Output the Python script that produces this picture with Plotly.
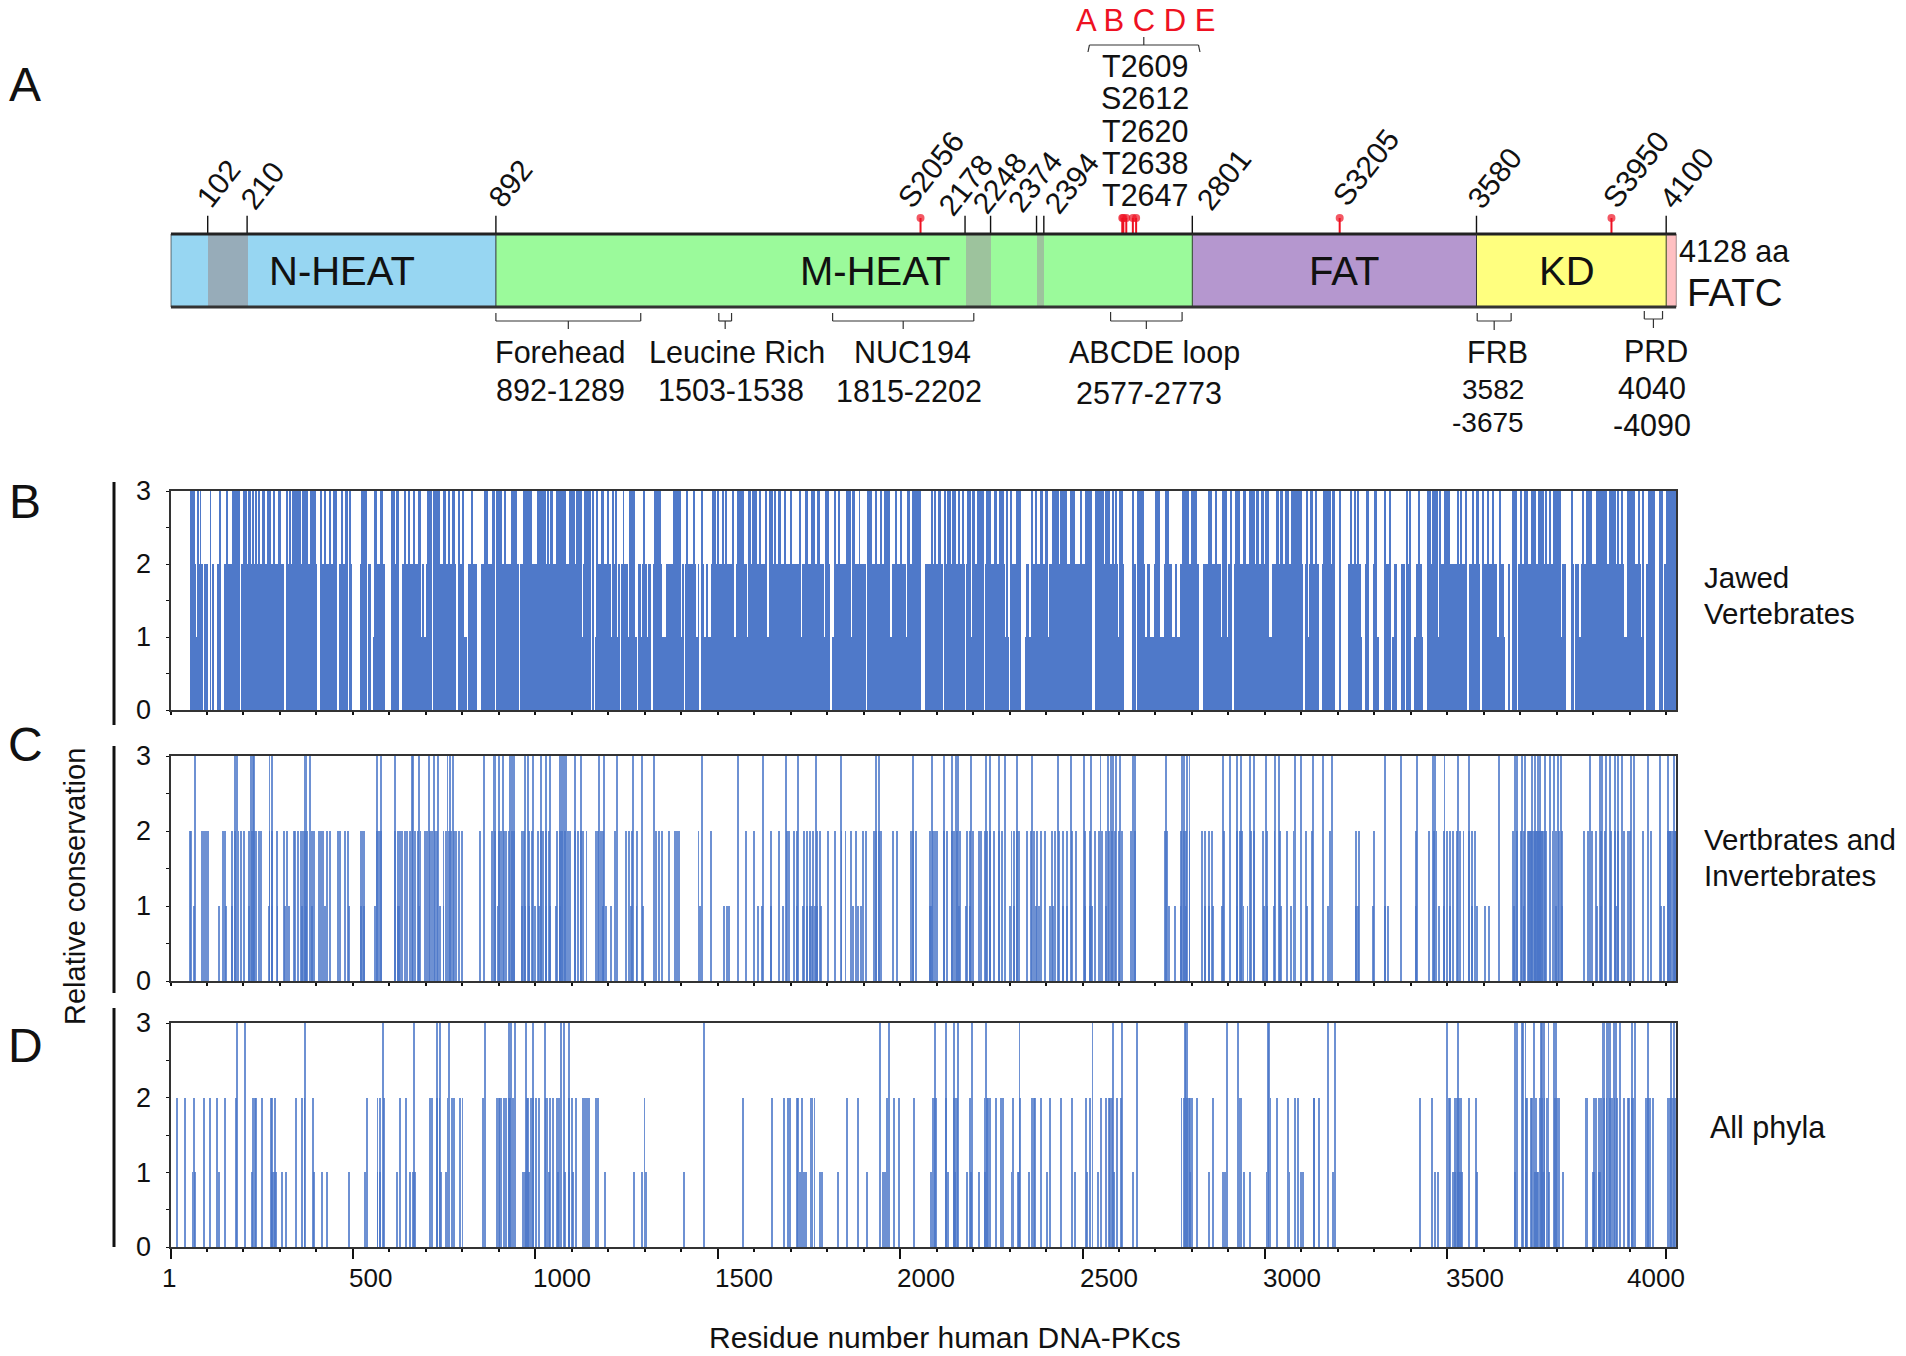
import plotly.graph_objects as go

W, H = 1906, 1356
PROTEIN_END = 4128

# ---------- panel A data ----------
domain_names = ["N-HEAT", "M-HEAT", "FAT", "KD", "FATC"]
domain_starts = [1, 892, 2801, 3580, 4100]
domain_ends = [892, 2801, 3580, 4100, 4128]
domain_colors = ["#97d6f2", "#9bfa9b", "#b597cf", "#ffff7f", "#ffc0c2"]
shade_starts = [102, 2178, 2374]
shade_ends = [210, 2248, 2394]
shade_colors = ["#97acb9", "#9dc39d", "#9dc39d"]
boundary_ticks = [102, 210, 892, 2178, 2248, 2374, 2394, 2801, 3580, 4100]
phospho_sites = [2056, 2609, 2612, 2620, 2638, 2647, 3205, 3950]
bracket_names = ["Forehead", "Leucine Rich", "NUC194", "ABCDE loop", "FRB", "PRD"]
bracket_starts = [892, 1503, 1815, 2577, 3582, 4040]
bracket_ends = [1289, 1538, 2202, 2773, 3675, 4090]

# ---------- panel B: jawed vertebrates, runs of residues at each score ----------
B_score3_runs = [
 (51,60),(63,67),(72,76),(80,82),(107,108),(134,137),(151,157),(168,188),(197,209),(213,218),(224,227),(232,236),
 (241,245),(252,257),(262,273),(279,285),(292,301),(316,321),(325,329),(332,355),(358,376),(382,398),(409,414),
 (419,425),(433,439),(445,456),(467,472),(479,484),(489,494),(520,536),(559,564),(572,581),(604,614),(617,626),
 (639,643),(649,655),(666,670),(679,684),(702,716),(719,737),(748,753),(760,766),(771,778),(787,792),(798,801),
 (823,827),(858,869),(880,888),(890,908),(913,919),(931,949),(966,990),(1004,1016),(1022,1027),
 (1013,1027),(1033,1035),(1038,1048),(1054,1082),(1091,1102),(1104,1108),(1109,1126),(1132,1150),(1155,1159),
 (1164,1170),(1180,1187),(1196,1200),(1209,1212),(1219,1221),(1240,1241),(1255,1271),(1294,1297),(1324,1344),
 (1377,1397),(1412,1415),(1433,1435),(1452,1458),(1482,1493),(1497,1500),(1511,1514),(1520,1525),(1538,1541),
 (1552,1572),(1584,1589),(1593,1607),(1614,1618),(1627,1634),(1639,1650),(1653,1657),(1666,1671),(1680,1687),
 (1696,1703),(1721,1728),(1739,1747),(1753,1764),(1770,1779),(1794,1803),(1820,1824),(1829,1835),(1849,1863),
 (1867,1876),(1886,1887),(1908,1922),(1929,1936),(1943,1950),(1954,1972),(1986,1991),(2000,2003),(2018,2027),
 (2032,2055),(2085,2089),(2094,2098),(2103,2110),(2119,2123),(2126,2137),(2140,2152),(2158,2164),(2169,2173),
 (2183,2192),(2196,2204),(2210,2228),(2235,2249),(2256,2265),(2269,2283),(2290,2295),(2301,2306),(2315,2330),
 (2358,2363),(2368,2375),(2381,2390),(2397,2405),(2414,2434),(2438,2457),(2463,2478),(2493,2498),(2505,2525),
 (2534,2557),(2560,2573),(2580,2585),(2589,2594),(2600,2609),(2635,2641),(2649,2667),(2697,2711),(2724,2735),
 (2770,2790),(2795,2813),(2843,2854),(2863,2868),(2880,2895),(2904,2909),(2916,2929),(2941,2946),(2955,2971),
 (2975,2982),(2987,2996),(3000,3011),(3030,3037),(3041,3049),(3055,3064),(3069,3101),(3110,3117),(3122,3131),
 (3136,3142),(3158,3179),(3183,3191),(3203,3206),(3233,3238),(3243,3247),(3252,3255),(3275,3284),(3299,3307),
 (3325,3331),(3339,3343),(3387,3391),(3396,3398),(3419,3424),(3442,3453),(3457,3473),(3478,3482),(3489,3506),
 (3524,3530),(3535,3540),(3549,3553),(3567,3573),(3576,3585),(3594,3597),(3608,3612),(3622,3626),(3643,3647),
 (3677,3690),(3698,3704),(3709,3720),(3727,3741),(3747,3763),(3768,3773),(3777,3784),(3789,3811),(3838,3841),
 (3868,3873),(3879,3896),(3905,3937),(3942,3960),(3964,3969),(3975,3981),(3992,4012),(4024,4028),(4033,4036),
 (4048,4067),(4079,4091),(4097,4128),
]
B_score2_runs = [
 (58,69),(76,88),(90,101),(115,117),(127,131),(145,188),(191,250),(255,296),(298,310),(316,332),(337,349),(353,401),
 (408,456),(460,483),(489,495),(519,533),(541,548),(559,586),(604,608),(611,625),(634,684),(687,693),(700,716),
 (721,762),(766,780),(787,798),(815,821),(826,840),(849,885),(890,954),(958,1027),
 (1013,1127),(1130,1147),(1153,1159),(1167,1207),(1209,1221),(1228,1232),(1233,1252),(1255,1271),(1280,1287),
 (1290,1305),(1310,1315),(1321,1347),(1356,1377),(1383,1388),(1401,1404),(1408,1438),(1445,1447),(1452,1461),
 (1467,1472),(1481,1520),(1525,1543),(1549,1578),(1589,1598),(1605,1627),(1639,1664),(1673,1726),(1730,1790),
 (1794,1806),(1820,1852),(1867,1904),(1907,1972),(1977,2014),(2018,2055),(2041,2057),(2068,2078),(2079,2105),
 (2110,2116),(2119,2131),(2138,2176),(2180,2194),(2201,2228),(2231,2286),(2299,2330),(2344,2352),(2359,2405),
 (2408,2414),(2427,2443),(2449,2470),(2478,2525),(2534,2580),(2582,2595),(2600,2612),(2635,2644),(2653,2670),
 (2676,2683),(2694,2708),(2722,2745),(2752,2758),(2767,2819),(2829,2845),(2850,2863),(2868,2877),(2898,2909),
 (2914,2955),(2957,2975),(2978,3010),(3017,3030),(3032,3083),(3069,3104),(3110,3113),(3119,3147),(3156,3162),
 (3174,3192),(3204,3208),(3226,3263),(3272,3285),(3296,3305),(3325,3341),(3352,3361),(3372,3384),(3391,3396),
 (3412,3428),(3442,3457),(3464,3471),(3478,3553),(3558,3588),(3594,3634),(3647,3654),(3667,3669),(3693,3811),
 (3814,3823),(3837,3846),(3850,3859),(3864,3932),(3935,3964),(3969,3983),(3992,4015),(4017,4030),(4042,4056),
 (4079,4085),(4092,4128),
]
B_score1_runs = [
 (53,58),(69,73),(252,255),(294,298),(332,338),(352,358),(469,475),(533,537),(556,559),(684,700),(803,812),(816,824),
 (876,880),(1127,1130),(1164,1167),(1207,1210),(1225,1228),(1252,1255),(1273,1278),(1287,1290),(1305,1310),
 (1347,1356),(1377,1383),(1388,1401),(1438,1445),(1461,1467),(1472,1481),(1520,1525),(1543,1549),(1578,1584),
 (1598,1605),(1627,1639),(1664,1673),(1726,1730),(1790,1794),(1811,1820),(1852,1867),(1972,1977),(2014,2015),
 (2105,2110),(2131,2135),(2194,2201),(2286,2297),(2343,2344),(2352,2359),(2405,2408),(2414,2427),(2443,2449),
 (2470,2478),(2580,2582),(2595,2600),(2670,2676),(2683,2694),(2708,2722),(2745,2752),(2758,2767),(2845,2850),
 (2877,2898),(2955,2957),(2975,2978),(3010,3017),(3030,3032),(3113,3119),(3243,3266),(3305,3312),(3348,3352),
 (3409,3412),(3428,3430),(3457,3464),(3471,3478),(3634,3658),(3807,3814),(3859,3864),(3983,3992),(4030,4039),
]

# ---------- panel C: vertebrates and invertebrates, residues at each score ----------
C_score3 = [66,176,180,220,224,228,270,276,366,371,380,564,575,614,660,664,680,708,722,732,758,764,772,859,884,888,898,909,
 929,934,941,971,979,992,1014,1027,1039,1066,1071,1077,1084,1108,1125,1174,1186,1223,1266,1292,1323,1455,1553,1624,1686,
 1720,1767,1837,1933,1940,2034,2087,2120,2140,2152,2158,2194,2234,2245,2269,2285,2318,2359,2431,2466,2504,2522,2548,2569,
 2576,2582,2590,2601,2638,2643,2727,2771,2778,2785,2792,2885,2902,2923,2934,2957,2968,3001,3027,3038,3080,3097,3130,3158,
 3182,3327,3372,3415,3459,3466,3491,3527,3558,3641,3683,3690,3704,3712,3732,3739,3746,3753,3767,3779,3790,3801,3810,3891,
 3916,3923,3934,3944,3958,3966,3978,4003,4010,4049,4081,4104,4119]
C_score2 = [52,56,84,90,95,101,143,148,168,176,185,193,200,215,221,227,232,241,246,270,277,291,310,317,336,341,347,357,362,368,
 373,386,392,406,411,417,428,435,457,464,476,484,520,525,530,564,569,576,615,621,627,632,641,646,655,662,669,678,684,697,702,
 711,716,723,730,747,754,761,768,775,782,789,797,848,881,887,899,905,912,919,926,934,941,961,968,982,989,1006,1013,1021,1028,
 1035,1059,1066,1073,1080,1088,1094,1108,1115,1123,1130,1139,1164,1171,1178,1185,1217,1246,1255,1263,1278,1329,1337,1346,1364,
 1381,1388,1393,1446,1481,1575,1597,1645,1667,1688,1695,1709,1716,1734,1743,1751,1760,1771,1779,1800,1821,1838,1849,1863,1877,
 1898,1905,1926,1933,1940,1947,1978,1989,2028,2034,2042,2081,2088,2095,2101,2119,2126,2140,2147,2154,2162,2182,2190,2199,2214,
 2221,2231,2238,2245,2255,2271,2278,2304,2311,2319,2324,2347,2357,2366,2375,2385,2396,2414,2424,2434,2445,2455,2471,2480,2506,
 2518,2534,2543,2552,2562,2571,2579,2587,2599,2606,2632,2643,2726,2730,2768,2776,2783,2792,2825,2835,2846,2853,2887,2923,2930,
 2937,2960,2968,2993,3004,3025,3041,3059,3077,3112,3127,3178,3248,3256,3298,3414,3449,3462,3469,3490,3498,3506,3515,3525,3534,
 3543,3557,3567,3575,3678,3690,3701,3709,3720,3723,3726,3729,3732,3735,3738,3741,3744,3747,3750,3753,3756,3759,3762,3765,3769,
 3787,3796,3804,3813,3874,3884,3894,3905,3919,3930,3947,3958,3966,3983,3993,4000,4036,4056,4104,4107,4110,4113,4116,4119,4122,4125]
C_score1 = [62,132,150,168,215,269,278,292,313,323,360,369,386,422,488,522,529,558,621,625,681,737,747,895,962,971,982,999,1010,
 1027,1038,1056,1066,1183,1192,1206,1262,1276,1295,1450,1516,1525,1530,1608,1620,1646,1678,1716,1732,1744,1751,1758,1765,1772,
 1782,1870,1883,1892,2081,2084,2161,2179,2189,2245,2301,2311,2371,2380,2410,2417,2445,2455,2506,2518,2525,2562,2737,2751,2769,
 2783,2834,2846,2856,2881,2923,2940,2951,2996,3004,3024,3042,3071,3113,3171,3248,3253,3294,3329,3336,3413,3477,3490,3506,3567,
 3581,3601,3613,3681,3709,3796,3813,3909,3919,3961,4084,4092]

# ---------- panel D: all phyla, residues at each score ----------
D_score3 = [182,204,368,580,666,729,737,761,861,926,933,943,973,993,1025,1070,1077,1091,1460,1944,1968,2094,2124,2147,2157,2197,
 2235,2326,2526,2582,2606,2649,2779,2781,2784,2896,2924,3008,3011,3171,3192,3498,3529,3683,3689,3703,3706,3713,3736,3755,3759,
 3763,3776,3792,3796,3924,3927,3935,3939,3944,3956,3960,3973,4004,4013,4049,4113,4119]
D_score2 = [17,39,62,90,108,125,147,179,224,229,234,250,274,278,284,343,360,366,389,536,566,572,583,628,643,710,716,729,736,758,771,
 775,793,799,856,894,898,902,906,912,919,926,930,937,975,979,986,993,1000,1008,1027,1032,1039,1046,1059,1064,1090,1098,1111,1130,
 1136,1140,1146,1164,1171,1298,1568,1648,1680,1692,1697,1715,1719,1729,1753,1758,1764,1852,1883,1963,1983,1995,2037,2090,2093,2097,
 2125,2145,2148,2154,2189,2230,2236,2240,2245,2262,2275,2281,2308,2328,2361,2365,2368,2385,2410,2439,2471,2509,2520,2549,2564,2572,
 2575,2579,2594,2605,2770,2777,2786,2790,2793,2800,2813,2857,2929,2932,3014,3032,3063,3080,3090,3132,3134,3147,3423,3457,3502,3506,
 3520,3525,3531,3536,3559,3578,3714,3718,3728,3732,3741,3753,3759,3765,3772,3793,3799,3805,3878,3883,3902,3907,3915,3921,3928,3935,
 3944,3951,3957,3963,3984,3993,3997,4004,4009,4044,4049,4055,4063,4104,4108,4113,4118,4123]
D_score1 = [59,66,132,222,276,283,288,305,315,393,415,428,488,532,566,573,620,655,663,669,740,754,964,971,982,1035,1062,1081,1090,1101,
 1189,1270,1291,1301,1407,1725,1734,1741,1779,1785,1828,1909,1951,1958,2084,2130,2150,2183,2194,2216,2232,2304,2321,2324,2351,2401,
 2477,2511,2542,2586,2637,2793,2846,2884,2890,2942,2958,3003,3066,3097,3103,3185,3466,3473,3515,3521,3528,3534,3538,3581,3684,3715,
 3740,3744,3748,3757,3763,3778,3816,3897,3902,3914,3917]

# ---------- axis labels ----------
y_tick_values = [0, 1, 2, 3]
y_minor_values = [0.5, 1.5, 2.5]
x_minor_values = list(range(0, 4101, 100))
x_major_values = [0, 500, 1000, 1500, 2000, 2500, 3000, 3500, 4100]
x_tick_labels = ["1", "500", "1000", "1500", "2000", "2500", "3000", "3500", "4000"]
x_label_px = [169, 370, 562, 744, 926, 1109, 1292, 1475, 1656]

FONT = "Liberation Sans"
BLUE_B = "#4f79c9"
BLUE_C = "#4a75c8"
BLUE_D = "#4a75c8"
INK = "#111111"

def px(x):
    return x / W
def py(y):
    return 1 - y / H

XDOM = [px(170.5), px(1676.4)]
fig = go.Figure()

def run_bars(runs, score, axis):
    return go.Bar(x=[(a + b) / 2 for a, b in runs], y=[score] * len(runs), width=[b - a for a, b in runs],
                  marker=dict(color=BLUE_B, line=dict(width=0)), xaxis=f"x{axis}", yaxis=f"y{axis}", hoverinfo="skip")

def stem_bars(positions, score, axis, color):
    return go.Bar(x=positions, y=[score] * len(positions), width=2.6,
                  marker=dict(color=color, opacity=0.8, line=dict(width=0)), xaxis=f"x{axis}", yaxis=f"y{axis}", hoverinfo="skip")

for runs, s in [(B_score3_runs, 3), (B_score2_runs, 2), (B_score1_runs, 1)]:
    fig.add_trace(run_bars(runs, s, ""))
for pos, s in [(C_score3, 3), (C_score2, 2), (C_score1, 1)]:
    fig.add_trace(stem_bars(pos, s, 2, BLUE_C))
for pos, s in [(D_score3, 3), (D_score2, 2), (D_score1, 1)]:
    fig.add_trace(stem_bars(pos, s, 3, BLUE_D))

# panel A: domains and shaded regions
all_starts = domain_starts + shade_starts
all_ends = domain_ends + shade_ends
fig.add_trace(go.Bar(y=[0.5] * len(all_starts), x=[e - s for s, e in zip(all_starts, all_ends)], base=all_starts,
                     width=1, orientation="h", marker=dict(color=domain_colors + shade_colors, line=dict(width=0)),
                     xaxis="x4", yaxis="y4", hoverinfo="skip"))

def stems(values, top, color, width, marker=False):
    xs, ys, sizes = [], [], []
    for v in values:
        xs += [v, v, None]
        ys += [1, top, None]
        sizes += [0, 8, 0]
    return go.Scatter(x=xs, y=ys, mode="lines+markers" if marker else "lines",
                      line=dict(color=color, width=width), marker=dict(size=sizes, color=color, line=dict(width=0)),
                      xaxis="x4", yaxis="y4", hoverinfo="skip", connectgaps=False)

fig.add_trace(stems(boundary_ticks, 1.25, INK, 1.4))
fig.add_trace(stems(phospho_sites, 1.22, "#ee1122", 2, marker=True))
# bar outline
fig.add_trace(go.Scatter(x=[1, PROTEIN_END], y=[1, 1], mode="lines", line=dict(color="#222222", width=3),
                         xaxis="x4", yaxis="y4", hoverinfo="skip"))
fig.add_trace(go.Scatter(x=[1, PROTEIN_END], y=[0, 0], mode="lines", line=dict(color="#333333", width=3),
                         xaxis="x4", yaxis="y4", hoverinfo="skip"))
for b in [1] + domain_ends:
    fig.add_trace(go.Scatter(x=[b, b], y=[0, 1], mode="lines", line=dict(color="#333333", width=1),
                             xaxis="x4", yaxis="y4", hoverinfo="skip"))

shapes = []
def line_px(x0, y0, x1, y1, w=1.2, c="#333333", xref="paper"):
    shapes.append(dict(type="line", xref=xref, yref="paper", x0=x0, x1=x1, y0=py(y0), y1=py(y1),
                       line=dict(color=c, width=w)))

# brackets under the domain bar
arm_top = [313, 313, 313, 312, 313, 311]
arm_bot = [321, 321, 321, 321, 321, 319]
stem_bot = [329, 329, 329, 329, 330, 328]
for s, e, t, b, st in zip(bracket_starts, bracket_ends, arm_top, arm_bot, stem_bot):
    m = (s + e) / 2
    line_px(s, t, s, b, xref="x4")
    line_px(e, t, e, b, xref="x4")
    line_px(s, b, e, b, xref="x4")
    line_px(m, b, m, st, xref="x4")
# bracket above the phosphosite labels
line_px(2515, 52, 2519, 45, xref="x4")
line_px(2519, 45, 2818, 45, xref="x4")
line_px(2818, 45, 2822, 52, xref="x4")
line_px(2668, 45, 2668, 37, xref="x4")

# vertical bars left of the panels
line_px(px(114), 482, px(114), 725, w=3, c="#111111")
line_px(px(114), 746, px(114), 993, w=3, c="#111111")
line_px(px(114), 1008, px(114), 1247, w=3, c="#111111")

annotations = []
def text(s, x, y, size=30, angle=0, color="#111111", anchor="center"):
    annotations.append(dict(text=s, x=px(x), y=py(y), xref="paper", yref="paper", showarrow=False, textangle=angle,
                            xanchor=anchor, yanchor="middle", font=dict(family=FONT, size=size, color=color)))

for s, x, y in [("A", 25, 85), ("B", 25, 502), ("C", 25, 744), ("D", 25, 1045)]:
    text(s, x, y, size=48)
for s, x in [("N-HEAT", 342), ("M-HEAT", 875), ("FAT", 1344), ("KD", 1567)]:
    text(s, x, 271, size=40)
text("4128 aa", 1734, 251, size=30.5)
text("FATC", 1735, 292, size=38.5)
text("A B C D E", 1146, 21, size=31, color="#ee1122")
for s, y in [("T2609", 66), ("S2612", 98), ("T2620", 131), ("T2638", 163), ("T2647", 195)]:
    text(s, 1145, y, size=30.5)
for s, x, y in [("102", 218, 183), ("210", 262, 185), ("892", 510, 183), ("S2056", 931, 170), ("2178", 965, 185),
                ("2248", 999, 183), ("2374", 1035, 182), ("2394", 1071, 183), ("2801", 1224, 180), ("S3205", 1366, 168),
                ("3580", 1494, 178), ("S3950", 1636, 170), ("4100", 1686, 178)]:
    text(s, x, y, size=30, angle=-52)
for s, x, y in [("Forehead", 560, 352), ("892-1289", 560, 390), ("Leucine Rich", 737, 352), ("1503-1538", 731, 390),
                ("NUC194", 912, 352), ("1815-2202", 909, 391), ("ABCDE loop", 1154, 352), ("2577-2773", 1149, 393),
                ("FRB", 1497, 352), ("PRD", 1656, 351), ("4040", 1652, 388), ("-4090", 1652, 425)]:
    text(s, x, y, size=30.5)
text("3582", 1493, 389, size=28)
text("-3675", 1488, 422, size=28)
for s, y in [("Jawed", 577), ("Vertebrates", 613), ("Vertbrates and", 839), ("Invertebrates", 875)]:
    text(s, 1702, y, size=29.5, anchor="left")
text("All phyla", 1708, 1127, size=30.5, anchor="left")
text("Relative conservation", 75, 887, size=29, angle=-90)
text("Residue number human DNA-PKcs", 945, 1337, size=30)
for s, x in zip(x_tick_labels, x_label_px):
    text(s, x, 1278, size=26)

def xaxis(long_ticks=False):
    d = dict(domain=XDOM, range=[0, PROTEIN_END], showgrid=False, zeroline=False, showline=True, mirror=True,
             linecolor="#333333", linewidth=2, showticklabels=False, ticks="outside", tickcolor="#111111",
             tickwidth=2, tickmode="array")
    if long_ticks:
        d.update(tickvals=x_major_values, ticklen=10,
                 minor=dict(tickmode="array", tickvals=x_minor_values, ticklen=3, ticks="outside", tickcolor="#111111", tickwidth=2))
    else:
        d.update(tickvals=x_minor_values, ticklen=3)
    return d

def yaxis(top, bottom, anchor):
    return dict(domain=[py(bottom), py(top)], range=[0, 3], anchor=anchor, showgrid=False, zeroline=False, showline=True,
                mirror=True, linecolor="#333333", linewidth=2, tickmode="array", tickvals=y_tick_values, ticks="outside",
                ticklen=3, tickcolor="#111111", ticklabelstandoff=9,
                tickfont=dict(family=FONT, size=27, color="#111111"),
                minor=dict(tickmode="array", tickvals=y_minor_values, ticks="outside", ticklen=3, tickcolor="#111111"))

A_TOP, A_BOT, BAR_TOP, BAR_BOT = 206, 336, 234, 307
unit = BAR_BOT - BAR_TOP

fig.update_layout(
    width=W, height=H, margin=dict(l=0, r=0, t=0, b=0, autoexpand=False), paper_bgcolor="white", plot_bgcolor="rgba(0,0,0,0)",
    showlegend=False, barmode="overlay", bargap=0, shapes=shapes, annotations=annotations,
    xaxis=dict(xaxis(), anchor="y"),
    yaxis=yaxis(491, 710, "x"),
    xaxis2=dict(xaxis(), anchor="y2"),
    yaxis2=yaxis(756, 981, "x2"),
    xaxis3=dict(xaxis(long_ticks=True), anchor="y3"),
    yaxis3=yaxis(1023, 1247, "x3"),
    xaxis4=dict(domain=XDOM, range=[0, PROTEIN_END], visible=False, anchor="y4"),
    yaxis4=dict(domain=[py(A_BOT), py(A_TOP)], range=[(BAR_BOT - A_BOT) / unit, (BAR_BOT - A_TOP) / unit], visible=False, anchor="x4"),
)

fig.write_html("out.html", config={"displayModeBar": False},
               post_script="document.body.style.margin='0';document.body.style.overflow='hidden';")
